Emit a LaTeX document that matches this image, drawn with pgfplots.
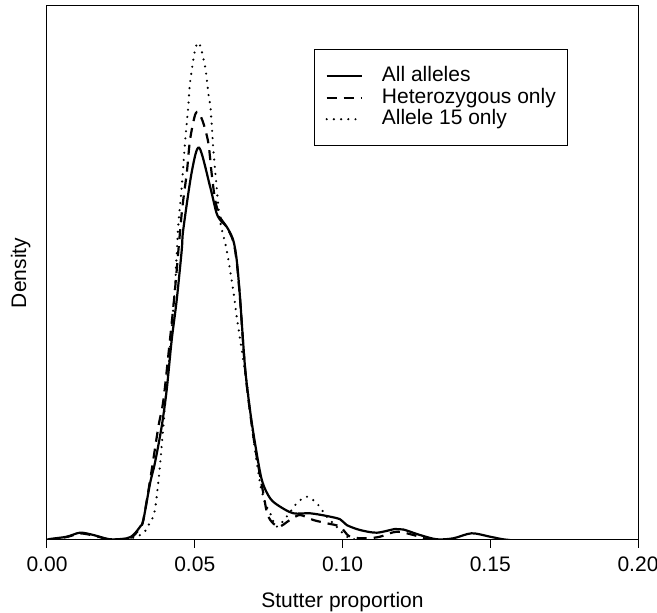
\documentclass[border=0pt]{standalone}
\usepackage{pgfplots}
\pgfplotsset{compat=1.18}
\usepackage{fontspec}
\setmainfont{Liberation Sans}
\begin{document}
\begin{tikzpicture}
\useasboundingbox (-23.5pt,-36.5pt) rectangle (305pt,270pt);
\begin{axis}[
  at={(0pt,0pt)}, anchor=south west,
  scale only axis, width=295.5pt, height=267pt,
  xmin=0, xmax=0.2, ymin=0, ymax=534,
  xtick={0,0.05,0.10,0.15,0.20},
  xticklabels={0.00,0.05,0.10,0.15,0.20},
  ytick=\empty,
  xtick pos=bottom,
  tick align=outside,
  major tick length=4pt,
  tick style={black, line width=0.5pt},
  axis line style={black, line width=0.5pt},
  font=\fontsize{10.5}{12.6}\selectfont,
  /pgf/number format/assume math mode=true,
  xticklabel style={font=\fontsize{10.5}{12.6}\selectfont, yshift=-1pt},
  xlabel={Stutter proportion},
  ylabel={Density},
  xlabel style={at={(axis description cs:0.5,0)}, anchor=base, yshift=-34pt},
  ylabel style={at={(axis description cs:-0.0355,0.5)}, anchor=base, rotate=0},
  legend style={at={(rel axis cs:0.4518,0.9195)}, anchor=north west, draw=black, line width=0.5pt,
    font=\fontsize{10.5}{12.6}\selectfont, inner xsep=5.5pt, inner ysep=8pt, row sep=0pt,
    nodes={inner sep=0.5pt, text height=7.75pt, text depth=2pt},
    /tikz/every odd column/.append style={column sep=9pt}},
  legend cell align=left,
  legend image code/.code={\draw[#1] (0pt,0pt) -- (17.5pt,0pt);},
]
\addplot[black, line width=1.1pt, smooth, tension=0.5] coordinates {
(0.0000,0) (0.0010,1) (0.0067,3.3) (0.0112,7.3) (0.0157,5) (0.0213,0.7) (0.0270,1.7)
(0.0292,5) (0.0315,13.3) (0.0326,20) (0.0349,57) (0.0365,76.7) (0.0388,113.3)
(0.0405,150) (0.0422,200) (0.0439,240) (0.0456,290) (0.0461,310) (0.0490,368.3)
(0.0515,392.3) (0.0552,353.3) (0.0574,326.7) (0.0591,318.3) (0.0608,313.3)
(0.0630,300) (0.0642,280) (0.0653,243.3) (0.0670,173.3) (0.0687,130) (0.0704,96.7)
(0.0727,60) (0.0755,41.7) (0.0789,33.3) (0.0834,26.7) (0.0890,26.7) (0.0947,24)
(0.0992,20.7) (0.1014,15) (0.1059,10) (0.1116,7.3) (0.1178,11) (0.1206,10.5)
(0.1262,5) (0.1319,0.7) (0.1375,1.7) (0.1437,6.7) (0.1499,3.3) (0.1543,0.7) (0.1567,0)
};
\addlegendentry{All alleles}
\addplot[black, line width=1.1pt, dash pattern=on 5pt off 3.5pt, smooth, tension=0.5] coordinates {
(0.0000,0) (0.0067,3) (0.0112,6.5) (0.0157,4.5) (0.0213,0.5) (0.0270,1) (0.0292,4)
(0.0315,12) (0.0326,20) (0.0349,60) (0.0377,113.3) (0.0394,140) (0.0416,200)
(0.0433,250) (0.0456,327) (0.0473,367) (0.0484,400) (0.0501,425) (0.0513,427.3)
(0.0529,417) (0.0546,397) (0.0557,367) (0.0569,340) (0.0585,323.3) (0.0608,313)
(0.0630,299) (0.0642,278) (0.0653,242) (0.0670,172) (0.0687,128) (0.0704,93)
(0.0732,46.7) (0.0749,23.3) (0.0783,13.3) (0.0822,20) (0.0856,25) (0.0901,20)
(0.0947,16.7) (0.0992,13.3) (0.1025,3.3) (0.1082,1.7) (0.1127,3.3) (0.1183,8.3)
(0.1240,5) (0.1285,1) (0.1330,0)
};
\addlegendentry{Heterozygous only}
\addplot[black, line width=1.2pt, line cap=round, dash pattern=on 0pt off 3.6pt, smooth, tension=0.5] coordinates {
(0.0000,0) (0.0213,0) (0.0270,0.5) (0.0287,1.7) (0.0326,6.7) (0.0343,15) (0.0349,17)
(0.0365,30) (0.0382,73.3) (0.0399,133.3) (0.0416,190) (0.0433,253.3) (0.0444,313.3)
(0.0456,353.3) (0.0467,397) (0.0478,433.3) (0.0484,457) (0.0501,490) (0.0515,496.7)
(0.0535,473.3) (0.0546,446.7) (0.0554,430) (0.0563,390) (0.0574,353.3) (0.0585,320)
(0.0608,290) (0.0630,250) (0.0642,223.3) (0.0659,190) (0.0676,157) (0.0687,130)
(0.0704,90) (0.0721,57) (0.0738,37) (0.0755,27) (0.0777,13.3) (0.0811,23.3)
(0.0845,36.7) (0.0879,43.3) (0.0913,36.7) (0.0947,23.3) (0.0980,13.3) (0.1014,3.3)
(0.1046,0.5) (0.1093,0)
};
\addlegendentry{Allele 15 only}
\end{axis}
\end{tikzpicture}
\end{document}
